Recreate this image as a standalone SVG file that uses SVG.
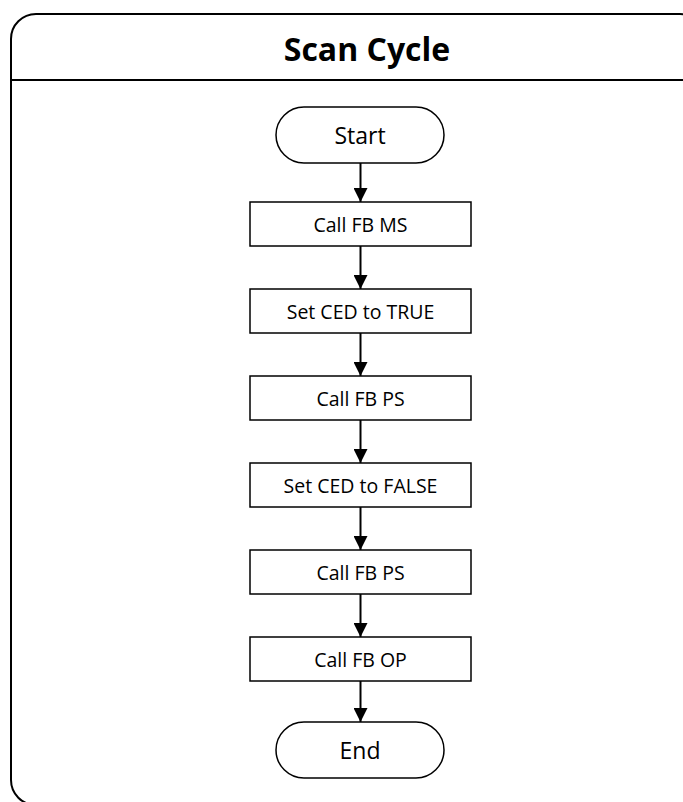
<svg xmlns="http://www.w3.org/2000/svg" width="683" height="802" viewBox="0 0 683 802">
<style>
.frame{fill:#fff;stroke:#000;stroke-width:2}
.box{fill:#fff;stroke:#000;stroke-width:1.5}
.lbl{font-family:"Open Sans","Liberation Sans",sans-serif;font-size:19.5px;fill:#000;text-anchor:middle;dominant-baseline:central}
.term{font-family:"Open Sans","Liberation Sans",sans-serif;font-size:23px;fill:#000;text-anchor:middle;dominant-baseline:central}
.title{font-family:"Open Sans","Liberation Sans",sans-serif;font-size:32px;font-weight:bold;fill:#000;text-anchor:middle;dominant-baseline:central}
.conn{stroke:#000;stroke-width:2;fill:none;marker-end:url(#ah)}
</style>
<defs>
<marker id="ah" markerWidth="14" markerHeight="14" refX="14" refY="7" orient="auto" markerUnits="userSpaceOnUse" viewBox="0 0 14 14">
<path d="M0,0 L14,7 L0,14 Z" fill="#000"/>
</marker>
</defs>
<rect width="683" height="802" fill="#fff"/>
<g id="frame">
<rect class="frame" x="11" y="14" width="694" height="791" rx="25" ry="25"/>
<line x1="11" y1="80" x2="705" y2="80" stroke="#000" stroke-width="2"/>
<text class="title" x="367" y="48">Scan Cycle</text>
</g>
<g id="connectors">
<line class="conn" x1="360.5" y1="163" x2="360.5" y2="202"/>
<line class="conn" x1="360.5" y1="246" x2="360.5" y2="289"/>
<line class="conn" x1="360.5" y1="333" x2="360.5" y2="376"/>
<line class="conn" x1="360.5" y1="420" x2="360.5" y2="463"/>
<line class="conn" x1="360.5" y1="507" x2="360.5" y2="550"/>
<line class="conn" x1="360.5" y1="594" x2="360.5" y2="637"/>
<line class="conn" x1="360.5" y1="681" x2="360.5" y2="722"/>
</g>
<g id="start">
<rect class="box" x="276" y="107" width="168" height="56" rx="28" ry="28"/>
<text class="term" x="360" y="135">Start</text>
</g>
<g id="call-fb-ms">
<rect class="box" x="250" y="202" width="221" height="44"/>
<text class="lbl" x="360.5" y="224">Call FB MS</text>
</g>
<g id="set-ced-true">
<rect class="box" x="250" y="289" width="221" height="44"/>
<text class="lbl" x="360.5" y="311">Set CED to TRUE</text>
</g>
<g id="call-fb-ps-1">
<rect class="box" x="250" y="376" width="221" height="44"/>
<text class="lbl" x="360.5" y="398">Call FB PS</text>
</g>
<g id="set-ced-false">
<rect class="box" x="250" y="463" width="221" height="44"/>
<text class="lbl" x="360.5" y="485">Set CED to FALSE</text>
</g>
<g id="call-fb-ps-2">
<rect class="box" x="250" y="550" width="221" height="44"/>
<text class="lbl" x="360.5" y="572">Call FB PS</text>
</g>
<g id="call-fb-op">
<rect class="box" x="250" y="637" width="221" height="44"/>
<text class="lbl" x="360.5" y="659">Call FB OP</text>
</g>
<g id="end">
<rect class="box" x="276" y="722" width="168" height="56" rx="28" ry="28"/>
<text class="term" x="360" y="750">End</text>
</g>
</svg>
